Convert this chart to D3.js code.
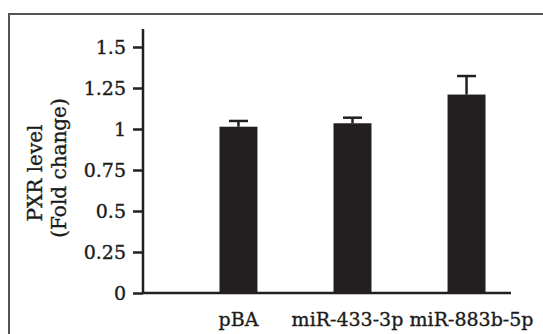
<!DOCTYPE html>
<html>
<head>
<meta charset="utf-8">
<script src="https://cdn.jsdelivr.net/npm/d3@7"></script>
<style>
  html, body { margin: 0; padding: 0; background: #fff; }
  svg { display: block; }
  text { font-family: "DejaVu Serif", "Liberation Serif", serif; fill: #1a1a1a; }
</style>
</head>
<body>
<div id="chart"></div>
<script>
// data
const groups = ["pBA", "miR-433-3p", "miR-883b-5p"];
const means  = [1.014, 1.035, 1.21];
const errors = [0.035, 0.034, 0.113];
const yTicks = [0, 0.25, 0.5, 0.75, 1, 1.25, 1.5];
const yTickLabels = ["0", "0.25", "0.5", "0.75", "1", "1.25", "1.5"];

const W = 543, H = 334;
const ink = "#231f20";
const fs = "19px";

const svg = d3.select("#chart").append("svg")
  .attr("width", W).attr("height", H);

// frame (only top + left edges visible in the crop)
svg.append("path")
  .attr("d", `M9,${H} L9,14 L${W},14`)
  .attr("fill", "none")
  .attr("stroke", "#555")
  .attr("stroke-width", 2);

const y = d3.scaleLinear().domain([0, 1.5]).range([293, 47]);
const x = d3.scaleBand().domain(groups)
  .range([181.5, 523.5])
  .paddingInner(0.667)
  .paddingOuter(0.333);

const axisX0 = 143, axisX1 = 511;

const thicken = sel => sel
  .attr("fill", ink)
  .attr("stroke", ink)
  .attr("stroke-width", 0.35);

// y axis
const yAxis = svg.append("g")
  .attr("transform", `translate(${axisX0},0)`)
  .call(d3.axisLeft(y).tickValues(yTicks)
    .tickFormat((d, i) => yTickLabels[i])
    .tickSize(10).tickPadding(7).tickSizeOuter(0));
yAxis.select(".domain").remove();
yAxis.selectAll("line").attr("stroke", ink).attr("stroke-width", 2.5);
yAxis.selectAll("text")
  .style("font-family", '"DejaVu Serif", serif')
  .style("font-size", fs)
  .call(thicken);

svg.append("line")
  .attr("x1", axisX0).attr("x2", axisX0)
  .attr("y1", y(1.61)).attr("y2", y(0) + 1)
  .attr("stroke", ink).attr("stroke-width", 2.5);

// error bars (drawn first, bars cover the lower part)
const eb = svg.append("g");
groups.forEach((g, i) => {
  const cx = x(g) + x.bandwidth() / 2;
  eb.append("line")
    .attr("x1", cx).attr("x2", cx)
    .attr("y1", y(means[i])).attr("y2", y(means[i] + errors[i]))
    .attr("stroke", ink).attr("stroke-width", 2.5);
  eb.append("line")
    .attr("x1", cx - 9.5).attr("x2", cx + 9.5)
    .attr("y1", y(means[i] + errors[i])).attr("y2", y(means[i] + errors[i]))
    .attr("stroke", ink).attr("stroke-width", 2.5);
});

// bars
svg.selectAll("rect.bar")
  .data(groups)
  .enter().append("rect")
  .attr("class", "bar")
  .attr("x", d => x(d))
  .attr("width", x.bandwidth())
  .attr("y", (d, i) => y(means[i]))
  .attr("height", (d, i) => y(0) - y(means[i]))
  .attr("fill", ink);

// x axis line
svg.append("line")
  .attr("x1", axisX0).attr("x2", axisX1)
  .attr("y1", y(0)).attr("y2", y(0))
  .attr("stroke", ink).attr("stroke-width", 2.5);

// x labels
svg.selectAll("text.xl")
  .data(groups)
  .enter().append("text")
  .attr("class", "xl")
  .attr("x", (d, i) => x(d) + x.bandwidth() / 2 + [0, -5, 5][i])
  .attr("y", 326)
  .attr("text-anchor", "middle")
  .style("font-size", fs)
  .call(thicken)
  .text(d => d);

// y title
const yt = svg.append("text")
  .attr("transform", "rotate(-90)")
  .attr("text-anchor", "middle")
  .style("font-size", "20px")
  .call(thicken);
yt.append("tspan").attr("x", -173).attr("y", 42).text("PXR level");
yt.append("tspan").attr("x", -168).attr("y", 66).text("(Fold change)");
</script>
</body>
</html>
